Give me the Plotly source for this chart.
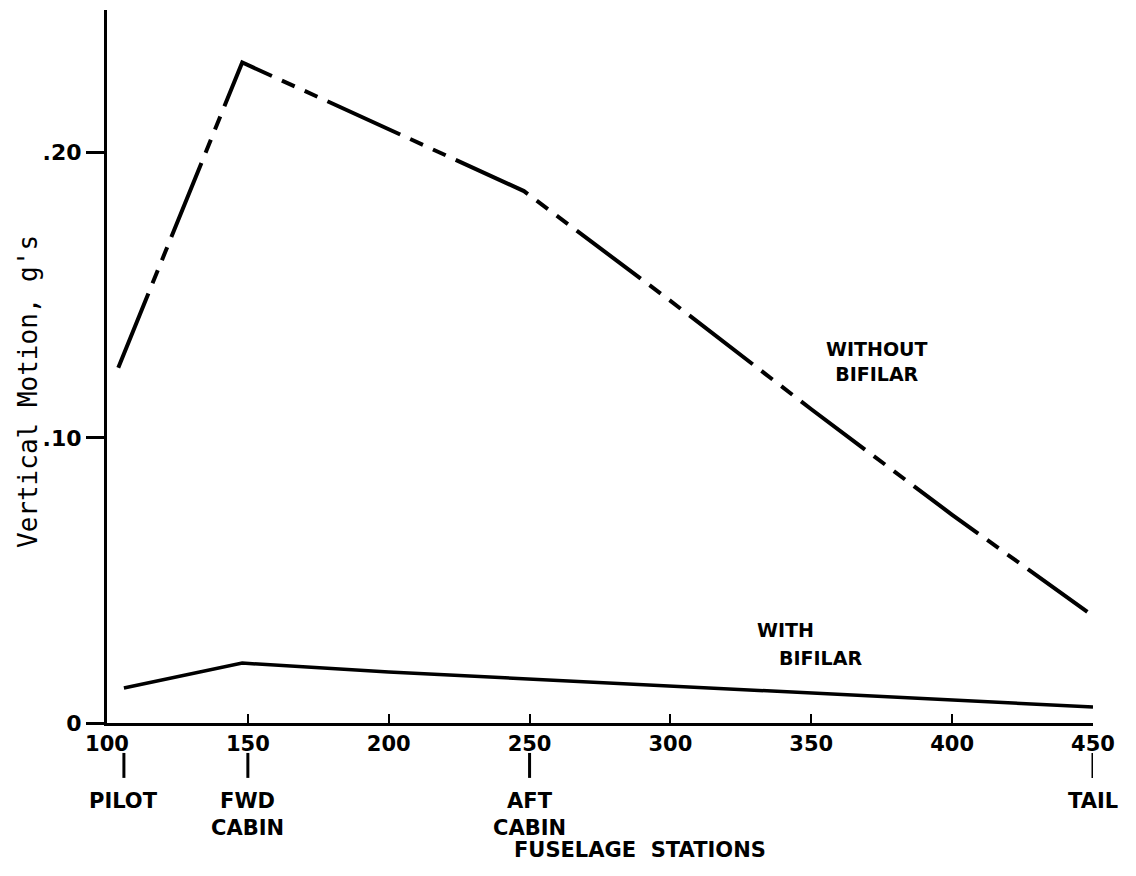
import plotly.graph_objects as go

# --- data ---
without_x = [104, 148, 200, 248, 300, 350, 400, 448]
without_y = [0.1246, 0.2316, 0.2082, 0.1865, 0.148, 0.110, 0.073, 0.039]

with_x = [106, 148, 200, 250, 300, 350, 400, 450]
with_y = [0.0123, 0.0210, 0.0179, 0.0154, 0.0129, 0.0105, 0.0080, 0.0056]

x_ticks = [100, 150, 200, 250, 300, 350, 400, 450]
x_ticktext = ["100", "150", "200", "250", "300", "350", "400", "450"]
y_ticks = [0, 0.10, 0.20]
y_ticktext = ["0", ".10", ".20"]

station_pos = [106, 150, 250, 450]
station_names = ["PILOT", "FWD<br>CABIN", "AFT<br>CABIN", "TAIL"]

LBL_FONT = dict(family="DejaVu Sans", size=21, color="black")

fig = go.Figure()
fig.add_trace(go.Scatter(
    x=without_x, y=without_y, mode="lines", name="Without bifilar",
    line=dict(color="black", width=4, dash="80px,11px,14px,11px,14px,11px"),
))
fig.add_trace(go.Scatter(
    x=with_x, y=with_y, mode="lines", name="With bifilar",
    line=dict(color="black", width=3.5),
))

# station markers & labels below the axis
for pos, name in zip(station_pos, station_names):
    fig.add_shape(type="line", xref="x", yref="paper", x0=pos, x1=pos,
                  y0=-0.042, y1=-0.077, line=dict(color="black", width=3))
    fig.add_annotation(x=pos, xref="x", y=-0.090, yref="paper", text="<b>%s</b>" % name,
                       showarrow=False, yanchor="top", xanchor="center",
                       font=LBL_FONT, align="center")

fig.add_annotation(x=0.5406, xref="paper", y=-0.178, yref="paper",
                   text="<b>FUSELAGE  STATIONS</b>", showarrow=False,
                   xanchor="center", yanchor="middle", font=LBL_FONT)

NOTE_FONT = dict(family="DejaVu Sans", size=19, color="black")
fig.add_annotation(x=0.78, xref="paper", y=0.5077, yref="paper",
                   text="<b>WITHOUT<br>BIFILAR</b>", showarrow=False, align="center",
                   xanchor="center", yanchor="middle", font=NOTE_FONT)
fig.add_annotation(x=(785 - 107) / 986, xref="paper", y=(723 - 630) / 713, yref="paper",
                   text="<b>WITH</b>", showarrow=False,
                   xanchor="center", yanchor="middle", font=NOTE_FONT)
fig.add_annotation(x=(820 - 107) / 986, xref="paper", y=(723 - 658) / 713, yref="paper",
                   text="<b>BIFILAR</b>", showarrow=False,
                   xanchor="center", yanchor="middle", font=NOTE_FONT)

# y-axis title (typewriter style)
fig.add_annotation(x=(28 - 107) / 986, xref="paper", y=(723 - 392) / 713, yref="paper",
                   text="Vertical Motion, g's", textangle=-90, showarrow=False,
                   xanchor="center", yanchor="middle",
                   font=dict(family="DejaVu Sans Mono", size=26, color="black"))

fig.update_layout(
    width=1136, height=876,
    margin=dict(l=107, r=43, t=10, b=153),
    paper_bgcolor="white", plot_bgcolor="white",
    showlegend=False,
    xaxis=dict(range=[100, 450], tickvals=x_ticks,
               ticktext=["<b>%s</b>" % t for t in x_ticktext],
               showgrid=False, zeroline=False, showline=True, linecolor="black",
               linewidth=3, ticks="inside", ticklen=9, tickwidth=2, tickcolor="black",
               tickfont=dict(family="DejaVu Sans", size=21, color="black")),
    yaxis=dict(range=[0, 0.25], tickvals=y_ticks,
               ticktext=["<b>%s</b>" % t for t in y_ticktext],
               showgrid=False, zeroline=False, showline=True, linecolor="black",
               linewidth=3, ticks="outside", ticklen=18, tickwidth=3, tickcolor="black",
               tickfont=dict(family="DejaVu Sans", size=22, color="black")),
)

fig.write_html("out.html")
